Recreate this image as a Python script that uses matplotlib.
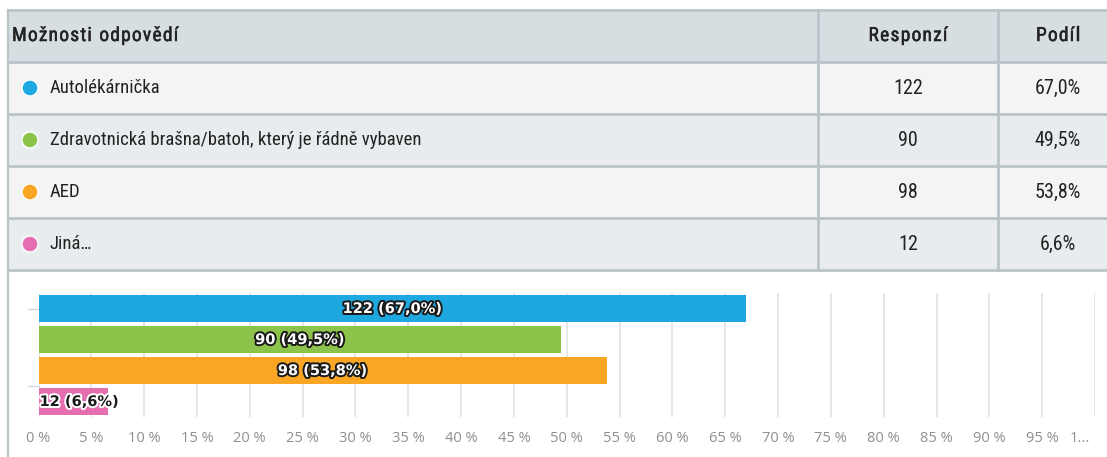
import matplotlib
matplotlib.use("Agg")
import matplotlib.pyplot as plt
import matplotlib.patheffects as pe
import matplotlib.transforms as mtransforms
from matplotlib import font_manager
from matplotlib.patches import Rectangle, Circle

# data
options = ["Autolékárnička",
           "Zdravotnická brašna/batoh, který je řádně vybaven",
           "AED",
           "Jiná…"]
responses = [122, 90, 98, 12]
shares = [67.0, 49.5, 53.8, 6.6]
colors = ["#1fa8e0", "#8cc34b", "#f9a624", "#e46eb0"]
header = ["Možnosti odpovědí", "Responzí", "Podíl"]
xticks = list(range(0, 101, 5))
xticklabels = [f"{t} %" for t in xticks[:-1]] + ["1..."]

names = {f.name for f in font_manager.fontManager.ttflist}
table_font = "Roboto"
for cand in ["Roboto Condensed", "Liberation Sans Narrow", "Open Sans Condensed"]:
    if cand in names:
        table_font = cand
        break

W, H = 1107, 457
fig = plt.figure(figsize=(W / 100, H / 100), dpi=100)
fig.patch.set_facecolor("white")
renderer = fig.canvas.get_renderer()

# background axes in pixel coordinates for the table
bg = fig.add_axes([0, 0, 1, 1])
bg.set_xlim(0, W)
bg.set_ylim(H, 0)
bg.axis("off")


def spaced_text(x, y, s, spacing, ha="left", **kw):
    # draw text letter by letter with extra spacing (pixels)
    widths = []
    for ch in s:
        t = bg.text(0, 0, ch if ch != " " else "a", **kw)
        widths.append(t.get_window_extent(renderer).width * (0.55 if ch == " " else 1))
        t.remove()
    total = sum(widths) + spacing * (len(s) - 1)
    start = x - total / 2 if ha == "center" else x
    for ch, w in zip(s, widths):
        if ch != " ":
            bg.text(start, y, ch, ha="left", va="center", **kw)
        start += w + spacing


row_edges = [10, 62, 114, 166, 218, 270]
col_edges = [8, 818, 998, 1130]
row_colors = ["#d6dee2", "#f4f4f4", "#e8ecee", "#f4f4f4", "#e8ecee"]
border = "#b9c4c9"

for i in range(5):
    y0, y1 = row_edges[i], row_edges[i + 1]
    bg.add_patch(Rectangle((col_edges[0], y0), col_edges[-1] - col_edges[0], y1 - y0,
                           facecolor=row_colors[i], edgecolor="none", zorder=1))
for y in row_edges:
    bg.plot([col_edges[0], col_edges[-1]], [y, y], color=border, lw=2, zorder=2)
for x in col_edges[:3]:
    top = row_edges[0]
    bottom = H if x == col_edges[0] else row_edges[-1]
    bg.plot([x, x], [top, bottom], color=border, lw=2 if x != col_edges[0] else 1.6, zorder=2)

tc = "#222222"
centers = [(row_edges[i] + row_edges[i + 1]) / 2 for i in range(5)]
bold_fx = [pe.withStroke(linewidth=0.35, foreground=tc)]
hkw = dict(fontsize=14, family=table_font, color=tc, zorder=3, path_effects=bold_fx)
spaced_text(12, centers[0], header[0], 1.2, ha="left", **hkw)
spaced_text(908, centers[0], header[1], 1.2, ha="center", **hkw)
spaced_text(1058, centers[0], header[2], 1.2, ha="center", **hkw)

for i, (opt, r, s, c) in enumerate(zip(options, responses, shares, colors)):
    yc = centers[i + 1]
    bg.add_patch(Circle((30, yc), 8, facecolor=c, edgecolor="white", lw=1, zorder=3))
    bg.text(50, yc, opt, fontsize=13.5, family=table_font, color=tc,
            va="center", ha="left", zorder=3)
    bg.text(908, yc, str(r), fontsize=14.5, family=table_font, color=tc,
            va="center", ha="center", zorder=3)
    bg.text(1058, yc, f"{s:.1f}".replace(".", ",") + "%", fontsize=14.5,
            family=table_font, color=tc, va="center", ha="center", zorder=3)

# bar chart axes
x0, x1 = 38.5, 1095
y_top, y_bot = 293, 417
ax = fig.add_axes([x0 / W, (H - y_bot) / H, (x1 - x0) / W, (y_bot - y_top) / H])
ax.set_facecolor("none")
ax.set_xlim(0, 100)
ax.set_ylim(3.5, -0.5)

ypos = list(range(len(shares)))
ax.barh(ypos, shares, height=0.9, color=colors, zorder=2)

ax.set_xticks(xticks)
ax.set_xticklabels(xticklabels)
ax.tick_params(axis="x", length=0, pad=10, labelsize=10.5, labelcolor="#8f8f8f")
for lab in ax.get_xticklabels():
    lab.set_family("Open Sans")
last = ax.get_xticklabels()[-1]
last.set_horizontalalignment("right")
last.set_transform(last.get_transform() +
                   mtransforms.ScaledTranslation(-5 / 100, 0, fig.dpi_scale_trans))
ax.grid(axis="x", color="#e2e2e2", lw=1.2, zorder=0)

ax.set_yticks([0, 2.5])
ax.set_yticklabels([])
ax.tick_params(axis="y", length=8, color="#d0d8dc", width=1)
for sp in ax.spines.values():
    sp.set_visible(False)

for y, r, s in zip(ypos, responses, shares):
    label = f"{r} ({s:.1f}".replace(".", ",") + "%)"
    if s >= 10:
        ax.text(s / 2, y, label, ha="center", va="center", fontsize=10.5,
                fontweight="bold", color="white", zorder=3,
                path_effects=[pe.withStroke(linewidth=2.8, foreground="#1a1a1a")])
    else:
        ax.text(0.1, y, label, ha="left", va="center", fontsize=10.5,
                fontweight="bold", color="#1a1a1a", zorder=3,
                path_effects=[pe.withStroke(linewidth=2.8, foreground="white")])

fig.savefig("out.png", dpi=100, facecolor="white")
